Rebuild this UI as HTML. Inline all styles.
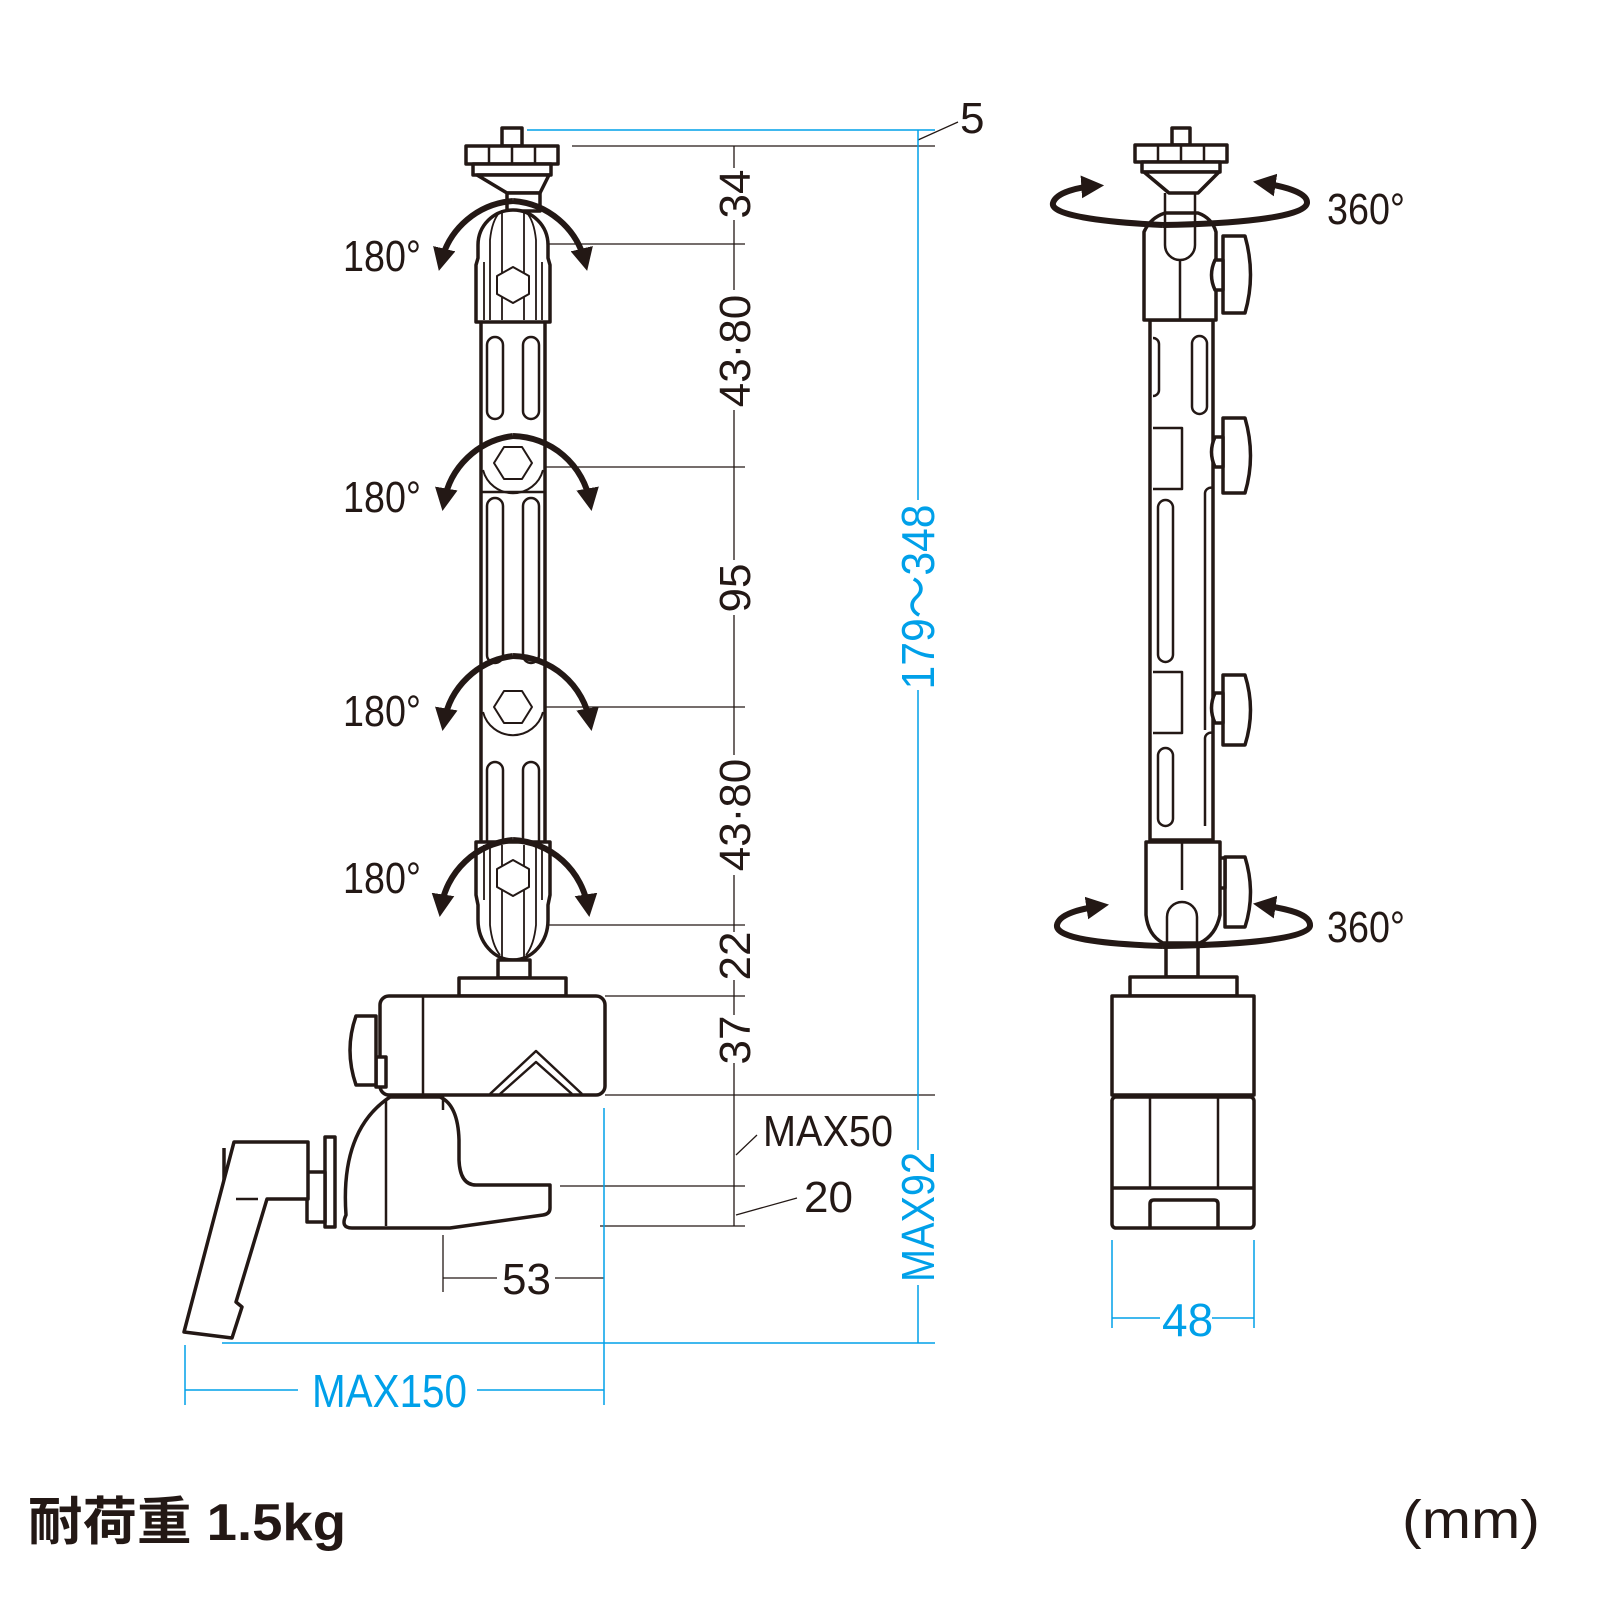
<!DOCTYPE html>
<html><head><meta charset="utf-8"><style>
html,body{margin:0;padding:0;background:#fff}
svg{display:block}
text{font-family:"Liberation Sans","Noto Sans CJK JP",sans-serif}
</style></head><body>
<svg width="1600" height="1600" viewBox="0 0 1600 1600" xmlns="http://www.w3.org/2000/svg">
<defs>
<marker id="ah" viewBox="0 0 10 10" refX="6" refY="5" markerWidth="3.8" markerHeight="3.8" orient="auto"><path d="M0,0 L10,5 L0,10 z" fill="#231815"/></marker>
</defs>
<g stroke="#231815" fill="none">
<g stroke-width="1.3">
<line x1="572" y1="146" x2="935" y2="146"/>
<line x1="516" y1="244" x2="745" y2="244"/>
<line x1="516" y1="467" x2="745" y2="467"/>
<line x1="516" y1="707" x2="745" y2="707"/>
<line x1="516" y1="925" x2="745" y2="925"/>
<line x1="605" y1="996" x2="745" y2="996"/>
<line x1="605" y1="1095" x2="935" y2="1095"/>
<line x1="560" y1="1186" x2="745" y2="1186"/>
<line x1="600" y1="1226" x2="745" y2="1226"/>
<line x1="734" y1="146" x2="734" y2="1226"/>
<line x1="918" y1="140" x2="958" y2="122"/>
<line x1="736" y1="1155" x2="757" y2="1135"/>
<line x1="736" y1="1215" x2="797" y2="1198"/>
<line x1="443" y1="1235" x2="443" y2="1292"/>
<line x1="443" y1="1278" x2="497" y2="1278"/>
<line x1="555" y1="1278" x2="604" y2="1278"/>
</g>
<g stroke="#00a0e9" stroke-width="1.5">
<line x1="527" y1="130" x2="935" y2="130"/>
<line x1="918" y1="130" x2="918" y2="1343"/>
<line x1="222" y1="1343" x2="935" y2="1343"/>
<line x1="604" y1="1108" x2="604" y2="1405"/>
<line x1="185" y1="1345" x2="185" y2="1405"/>
<line x1="185" y1="1390" x2="298" y2="1390"/>
<line x1="477" y1="1390" x2="604" y2="1390"/>
<line x1="1112" y1="1240" x2="1112" y2="1328"/>
<line x1="1254" y1="1240" x2="1254" y2="1328"/>
<line x1="1112" y1="1318" x2="1160" y2="1318"/>
<line x1="1212" y1="1318" x2="1254" y2="1318"/>
</g>
</g>
<g fill="#fff">
<rect x="712" y="168" width="44" height="52"/>
<rect x="712" y="290" width="44" height="120"/>
<rect x="712" y="560" width="44" height="55"/>
<rect x="712" y="755" width="44" height="120"/>
<rect x="712" y="932" width="44" height="48"/>
<rect x="712" y="1015" width="44" height="48"/>
<rect x="896" y="500" width="44" height="190"/>
<rect x="896" y="1150" width="44" height="135"/>
</g>
<g fill="#231815" font-size="44">
<text transform="translate(750,194) rotate(-90)" text-anchor="middle">34</text>
<text transform="translate(750,351) rotate(-90)" text-anchor="middle">43·80</text>
<text transform="translate(750,588) rotate(-90)" text-anchor="middle">95</text>
<text transform="translate(750,815) rotate(-90)" text-anchor="middle">43·80</text>
<text transform="translate(750,956) rotate(-90)" text-anchor="middle">22</text>
<text transform="translate(750,1040) rotate(-90)" text-anchor="middle">37</text>
<text x="960" y="133">5</text>
<text x="763" y="1146" textLength="130" lengthAdjust="spacingAndGlyphs">MAX50</text>
<text x="804" y="1212">20</text>
<text x="502" y="1294">53</text>
<text x="343" y="271" textLength="78" lengthAdjust="spacingAndGlyphs">180°</text>
<text x="343" y="512" textLength="78" lengthAdjust="spacingAndGlyphs">180°</text>
<text x="343" y="726" textLength="78" lengthAdjust="spacingAndGlyphs">180°</text>
<text x="343" y="893" textLength="78" lengthAdjust="spacingAndGlyphs">180°</text>
<text x="1327" y="224" textLength="78" lengthAdjust="spacingAndGlyphs">360°</text>
<text x="1327" y="942" textLength="78" lengthAdjust="spacingAndGlyphs">360°</text>
</g>
<g fill="#00a0e9" font-size="46">
<text transform="translate(934,597) rotate(-90)" text-anchor="middle" textLength="185" lengthAdjust="spacingAndGlyphs">179～348</text>
<text transform="translate(934,1217) rotate(-90)" text-anchor="middle" textLength="130" lengthAdjust="spacingAndGlyphs">MAX92</text>
<text x="312" y="1407" textLength="155" lengthAdjust="spacingAndGlyphs">MAX150</text>
<text x="1162" y="1336">48</text>
</g>
<text x="28" y="1540" font-size="52" font-weight="bold" fill="#231815" textLength="318" lengthAdjust="spacingAndGlyphs">耐荷重 1.5kg</text>
<text x="1402" y="1538" font-size="54" fill="#231815" textLength="138" lengthAdjust="spacingAndGlyphs">(mm)</text>

<!-- LEFT VIEW -->
<g stroke="#231815" stroke-width="3.5" fill="#fff" stroke-linejoin="round">
<rect x="502" y="128" width="20" height="18"/>
<rect x="466" y="146" width="92" height="18"/>
<path d="M489 146v18M512 146v18M535 146v18" fill="none" stroke-width="2.5"/>
<rect x="473" y="164" width="78" height="11"/>
<path d="M477 175 L507 193 H540 L549 175z"/>
<rect x="507" y="193" width="33" height="18"/>
<rect x="481" y="318" width="64" height="540"/>
<g stroke-width="2.5">
<rect x="487" y="337" width="16" height="82" rx="8"/>
<rect x="523" y="337" width="16" height="82" rx="8"/>
<rect x="487" y="498" width="16" height="165" rx="8"/>
<rect x="523" y="498" width="16" height="165" rx="8"/>
<rect x="487" y="762" width="16" height="88" rx="8"/>
<rect x="523" y="762" width="16" height="88" rx="8"/>
<line x1="481" y1="492" x2="545" y2="492"/>
<path d="M483 470 A31 31 0 0 0 543 470" fill="none" stroke-width="2"/>
<path d="M483 712 A31 31 0 0 0 543 712" fill="none" stroke-width="2"/>
</g>
<path d="M476 322 V265 L478 258 V245 A35 35 0 0 1 548 245 V258 L550 265 V322 Z"/>
<g stroke-width="1.8" fill="none">
<path d="M490 320 V240 Q492 220 500 212 M502 320 V210 M524 320 V210 M536 320 V240 Q534 220 526 212 M484 320 V262 M542 320 V262"/>
</g>
<path d="M476 842 V895 L478 905 V920 A35 40 0 0 0 548 920 V905 L550 895 V842 Z"/>
<g stroke-width="1.8" fill="none">
<path d="M490 845 V925 Q492 945 500 955 M502 845 V958 M524 845 V958 M536 845 V925 Q534 945 526 955 M484 845 V900 M542 845 V900"/>
</g>
<g stroke-width="2">
<polygon points="513,267 529,276 529,294 513,303 497,294 497,276"/>
<polygon points="494,463 504,447 522,447 532,463 522,479 504,479"/>
<polygon points="494,707 504,691 522,691 532,707 522,723 504,723"/>
<polygon points="513,860 529,869 529,887 513,896 497,887 497,869"/>
</g>
<rect x="498" y="960" width="32" height="18"/>
<rect x="459" y="978" width="107" height="18"/>
<rect x="380" y="996" width="225" height="99" rx="9"/>
<line x1="423" y1="996" x2="423" y2="1095" stroke-width="2.5"/>
<path d="M490 1094 L536 1051 L582 1094 M500 1094 L536 1062 L572 1094" fill="none" stroke-width="2.5"/>
<rect x="376" y="1057" width="10" height="30"/>
<path d="M376 1016 H356 Q344 1050 356 1085 H376 Z"/>
<path d="M352 1228 Q340 1228 346 1215 Q340 1130 390 1097 H440 Q458 1105 459 1140 V1160 Q460 1185 476 1185 H550 V1208 Q550 1214 543 1215 L450 1228 Z"/>
<line x1="386" y1="1100" x2="386" y2="1226" stroke-width="2.5"/>
<line x1="443" y1="1095" x2="443" y2="1110" stroke-width="2.5"/>
<rect x="325" y="1137" width="10" height="90"/>
<rect x="307" y="1172" width="18" height="50"/>
<path d="M224 1148 V1200 H236"/>
<path d="M236 1142 H308 V1199 H267 L236 1302 L242 1307 L232 1338 L184 1332 L234 1142 Z"/>
<line x1="236" y1="1199" x2="258" y2="1199" stroke-width="2.5"/>
</g>
<g stroke="#231815" stroke-width="6" fill="none" marker-end="url(#ah)">
<path d="M513 201 A80 80 0 0 0 441 262"/>
<path d="M513 201 A80 80 0 0 1 585 262"/>
<path d="M513 436 A80 80 0 0 0 444 502"/>
<path d="M513 436 A80 80 0 0 1 590 502"/>
<path d="M513 656 A80 80 0 0 0 444 722"/>
<path d="M513 656 A80 80 0 0 1 590 722"/>
<path d="M513 840 A80 80 0 0 0 441 908"/>
<path d="M513 840 A80 80 0 0 1 588 908"/>
</g>

<!-- RIGHT VIEW -->
<g stroke="#231815" stroke-width="3.5" fill="#fff" stroke-linejoin="round">
<rect x="1172" y="128" width="18" height="17"/>
<rect x="1135" y="145" width="92" height="17"/>
<path d="M1158 145v17M1181 145v17M1204 145v17" fill="none" stroke-width="2.5"/>
<rect x="1142" y="162" width="78" height="10"/>
<path d="M1144 172 L1169 193 H1198 L1219 172z"/>
<rect x="1150" y="320" width="63" height="520"/>
<g stroke-width="2.5">
<rect x="1192" y="336" width="15" height="78" rx="7.5"/>
<path d="M1153 338 a6 6 0 0 1 6 6 V390 a6 6 0 0 1 -6 6" fill="none"/>
<path d="M1153 428 H1182 V489 H1153" fill="none"/>
<path d="M1213 488 a6 6 0 0 0 -8 6 V730" fill="none"/>
<rect x="1158" y="500" width="15" height="162" rx="7.5"/>
<path d="M1153 672 H1182 V733 H1153" fill="none"/>
<rect x="1158" y="748" width="15" height="78" rx="7.5"/>
<path d="M1213 733 a6 6 0 0 0 -8 6 V826" fill="none"/>
</g>
<path d="M1144 320 V232 Q1150 218 1165 213 H1198 Q1212 218 1216 232 V320 Z"/>
<path d="M1165 193 V245 A15 15 0 0 0 1195 245 V193" fill="none" stroke-width="2.5"/>
<line x1="1180" y1="260" x2="1180" y2="320" stroke-width="2.5"/>
<g>
<path d="M1223 236 H1245 Q1256 275 1245 313 H1223 Z"/>
<path d="M1223 260 H1215 Q1208 275 1215 290 H1223 Z"/>
<path d="M1223 418 H1245 Q1256 456 1245 493 H1223 Z"/>
<path d="M1223 437 H1215 Q1208 452 1215 467 H1223 Z"/>
<path d="M1223 675 H1245 Q1256 710 1245 745 H1223 Z"/>
<path d="M1223 693 H1215 Q1208 708 1215 723 H1223 Z"/>
<path d="M1225 857 H1245 Q1256 893 1245 927 H1225 Z"/>
<path d="M1225 858 H1217 Q1211 873 1217 888 H1225 Z"/>
</g>
<path d="M1146 842 H1220 V915 Q1216 935 1200 943 H1163 Q1148 935 1146 915 Z"/>
<line x1="1182" y1="842" x2="1182" y2="890" stroke-width="2.5"/>
<path d="M1167 943 V917 A15 15 0 0 1 1197 917 V943" fill="none" stroke-width="2.5"/>
<rect x="1166" y="945" width="32" height="32"/>
<rect x="1130" y="977" width="107" height="19"/>
<rect x="1112" y="996" width="142" height="99"/>
<rect x="1112" y="1097" width="142" height="131" rx="4"/>
<line x1="1150" y1="1097" x2="1150" y2="1188" stroke-width="2.5"/>
<line x1="1218" y1="1097" x2="1218" y2="1188" stroke-width="2.5"/>
<line x1="1112" y1="1188" x2="1254" y2="1188"/>
<path d="M1150 1228 V1204 Q1150 1200 1154 1200 H1214 Q1218 1200 1218 1204 V1228" fill="none"/>
</g>
<g stroke="#231815" stroke-width="6" fill="none">
<path d="M1163 225 C1100 222 1050 215 1053 203 C1056 192 1080 187 1095 186" marker-end="url(#ah)"/>
<path d="M1163 225 C1230 224 1305 218 1307 203 C1308 192 1282 186 1262 183" marker-end="url(#ah)"/>
<path d="M1163 946 C1100 944 1055 938 1057 925 C1059 914 1080 909 1100 906" marker-end="url(#ah)"/>
<path d="M1163 946 C1230 945 1308 940 1310 926 C1311 914 1288 909 1262 905" marker-end="url(#ah)"/>
</g>
</svg>
</body></html>
